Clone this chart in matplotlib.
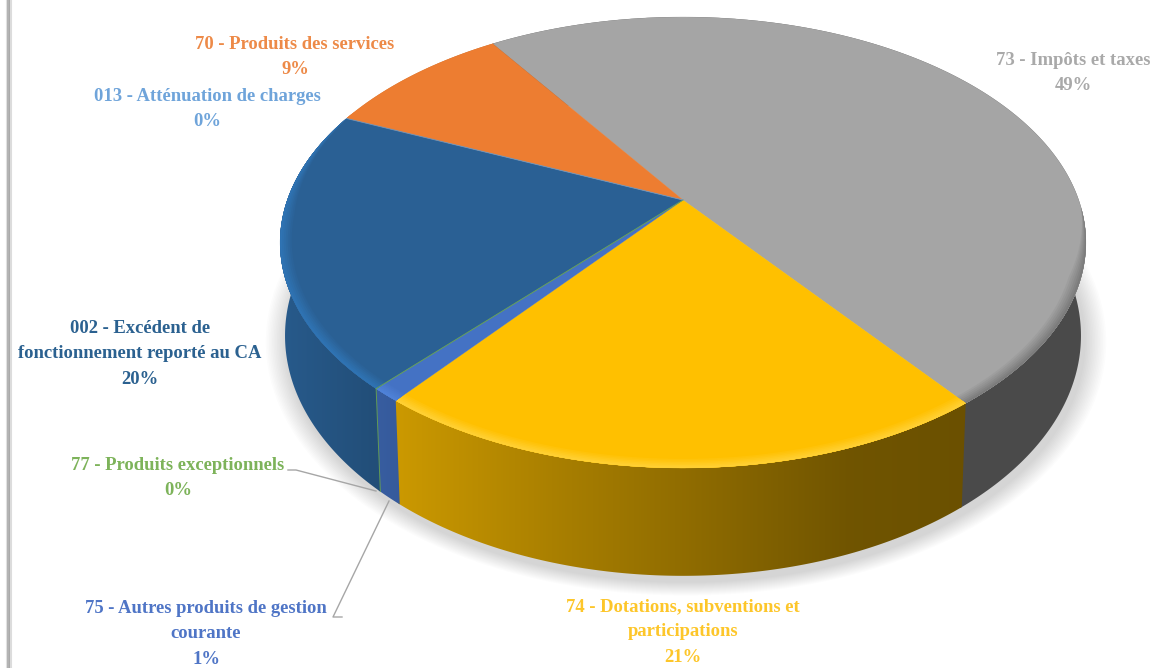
import numpy as np
import matplotlib
matplotlib.use("Agg")
import matplotlib.pyplot as plt
from matplotlib.colors import to_rgb
from matplotlib.patches import Polygon

# slices, clockwise from the top left edge of the grey one
labels = ["73 - Impôts et taxes", "74 - Dotations, subventions et\nparticipations",
          "75 - Autres produits de gestion\ncourante", "77 - Produits exceptionnels",
          "002 - Excédent de\nfonctionnement reporté au CA", "013 - Atténuation de charges",
          "70 - Produits des services"]
values = [49, 21, 1, 0, 20, 0, 9]
colors = ["#a5a5a5", "#ffc000", "#4472c4", "#70ad47", "#2a6094", "#5b9bd5", "#ed7d31"]
rim_colors = ["#7c7c7c", "#ffd033", "#4f82d8", "#70ad47", "#2f73b3", "#5b9bd5", "#ed7d31"]
text_colors = ["#a9a9a9", "#fdc62a", "#4f75c6", "#7db35a", "#2b6190", "#6fa4da", "#ed8a48"]

START = -33.8  # degrees clockwise from north
CX, CY = 683.0, 200.0  # where the slices meet
A, B = 395.7, 217.5  # disc size
K = 0.1885  # perspective strength
DEPTH, M = 92.0, 0.012  # thickness of the pie, shrink of its lower face

# centre of each label and its leader line
label_pos = [(1073, 73), (683, 632), (206, 634), (178, 478), (140, 354), (207, 109), (295, 57)]
leaders = {2: ([342, 333, 389], [617, 617, 501]), 3: ([288, 296, 376], [470, 470, 491])}

# wall brightness against horizontal position
shade_x = [280, 370, 393, 560, 850, 960, 1090]
shade_f = [0.94, 0.82, 0.80, 0.66, 0.44, 0.42, 0.42]


def project(theta, r=1.0, z=0.0):
    t = np.radians(theta)
    u, v = r * np.sin(t), r * np.cos(t)
    w = 1 + K * v + M * z
    return CX + A * u / w, CY - (B * v - DEPTH * z) / w


def arc(t0, t1, r=1.0, z=0.0):
    n = max(2, int(abs(t1 - t0) * 2) + 1)
    return project(np.linspace(t0, t1, n), r, z)


def mix(c1, c2, f):
    return tuple((1 - f) * a + f * b for a, b in zip(to_rgb(c1), to_rgb(c2)))


fig = plt.figure(figsize=(11.54, 6.68), dpi=100, facecolor="white")
ax = fig.add_axes([0, 0, 1, 1])
ax.set_xlim(0, 1154)
ax.set_ylim(668, 0)
ax.set_autoscale_on(False)
ax.axis("off")

# frame line on the left
for x, c, lw in [(6.5, "#e4e4e4", 1.5), (8, "#b4b4b4", 1.5), (9.5, "#a8a8a8", 1.5), (11, "#dcdcdc", 1.5)]:
    ax.plot([x, x], [0, 668], color=c, lw=lw, solid_capstyle="butt")

# soft shadow below the pie
ox, oy = arc(0, 360, 1.0, 1.0)
for i in range(14):
    s = 1 + 0.004 * (14 - i)
    ax.add_patch(Polygon(np.c_[CX + (ox - CX) * s + 3, 330 + (oy - 330) * s + 6], closed=True,
                         fc="black", ec="none", alpha=0.012, zorder=1))

edges = START + np.cumsum([0] + values) * 3.6

# side walls, gradient images clipped to each slice's band
grad_x = np.linspace(270, 1100, 416)
for i, col in enumerate(colors):
    t0, t1 = edges[i], edges[i + 1]
    if values[i] == 0:
        continue
    f = np.full_like(grad_x, 0.45) if i == 0 else np.interp(grad_x, shade_x, shade_f)
    img = np.clip(f[None, :, None] * np.array(to_rgb(col))[None, None, :], 0, 1)
    im = ax.imshow(img, extent=[270, 1100, 668, 0], aspect="auto", interpolation="bilinear", zorder=2 + i * 0.01)
    # small overlap so no light line opens up between neighbours
    xt, yt = arc(t0, t1 + 0.3)
    xb, yb = arc(t0, t1 + 0.3, 1.0, 1.0)
    band = Polygon(np.c_[np.r_[xt, xb[::-1]], np.r_[yt, yb[::-1]]], closed=True,
                   transform=ax.transData, fc="none", ec="none")
    ax.add_patch(band)
    im.set_clip_path(band)

# top face
for i, col in enumerate(colors):
    t0, t1 = edges[i], edges[i + 1]
    if values[i] == 0:
        continue
    x, y = arc(t0, t1)
    ax.add_patch(Polygon(np.c_[np.r_[CX, x], np.r_[CY, y]], closed=True, fc=col,
                         ec=col, lw=0.2, zorder=3))

    # bevel on the edge facing the viewer, tapering out towards the back
    a0, a1 = max(t0, 92), min(t1, 296)
    if a1 <= a0:
        continue
    ts = np.linspace(a0, a1, int((a1 - a0) * 2) + 2)
    taper = np.clip(np.minimum((ts - 92) / 18, (296 - ts) / 30), 0, 1)
    xo, yo = project(ts, 1.0)
    for j in range(6):
        xi, yi = project(ts, 1 - 0.028 * taper * (1 - j / 6))
        ax.add_patch(Polygon(np.c_[np.r_[xi, xo[::-1]], np.r_[yi, yo[::-1]]], closed=True,
                             fc=mix(col, rim_colors[i], (j + 1) / 6), ec="none", zorder=4))

# the 0% slices only show as a seam
for i, col in enumerate(colors):
    if values[i] != 0:
        continue
    x0, y0 = project(edges[i])
    ax.plot([CX, x0], [CY, y0], color=col, lw=0.7, alpha=0.8, zorder=4.5)
    if 90 < edges[i] % 360 < 270:
        x1, y1 = project(edges[i], 1.0, 1.0)
        ax.plot([x0, x1], [y0, y1], color=col, lw=0.7, alpha=0.8, zorder=4.5)

for i, name in enumerate(labels):
    tx, ty = label_pos[i]
    ax.text(tx, ty, f"{name}\n{values[i]}%", ha="center", va="center", color=text_colors[i],
            family="Liberation Serif", fontweight="bold", fontsize=13.4, linespacing=1.63, zorder=6)

for lx, ly in leaders.values():
    ax.plot(lx, ly, color="#a6a6a6", lw=1.0, zorder=5)

fig.savefig("out.png", dpi=100, facecolor="white")
